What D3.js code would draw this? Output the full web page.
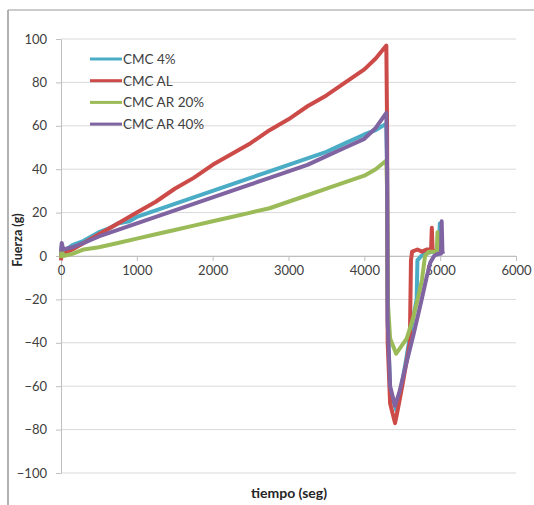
<!DOCTYPE html>
<html>
<head>
<meta charset="utf-8">
<script src="https://cdn.jsdelivr.net/npm/d3@7"></script>
<style>
  body { margin: 0; background: #fff; }
  text { font-family: Lato, "Open Sans", sans-serif; fill: #404040; }
</style>
</head>
<body>
<svg width="534" height="505"></svg>
<script>
// valori: [tiempo (seg), fuerza (g)]
var seriesNames = ["CMC 4%", "CMC AL", "CMC AR 20%", "CMC AR 40%"];
var seriesColors = ["#4bacc6", "#cc4a47", "#9bbb59", "#8064a2"];
var xTicks = [0, 1000, 2000, 3000, 4000, 5000, 6000];
var yTicks = [-100, -80, -60, -40, -20, 0, 20, 40, 60, 80, 100];

var cmc4 = [[0,-1],[10,5],[30,2],[150,5],[300,7],[400,9],[500,11],[650,13],[750,15],[900,16],[1000,18],
  [1250,21],[1500,24],[1750,27],[2000,30],[2250,33],[2500,36],[2750,39],[3000,42],[3250,45],
  [3500,48],[3750,52],[4000,56],[4150,58],[4290,61],[4300,40],[4308,-30],[4340,-62],[4420,-71],
  [4470,-64],[4550,-48],[4620,-33],[4690,-20],[4700,-2],[4750,0],[4800,1],[4900,2],[4980,1],
  [4995,15],[5005,2],[5020,1]];
var cmcAL = [[0,-2],[10,3],[30,1],[150,3],[300,6],[500,10],[750,15],[1000,20],[1250,25],[1500,31],
  [1750,36],[2000,42],[2250,47],[2500,52],[2750,58],[3000,63],[3250,69],[3500,74],[3750,80],
  [4000,86],[4150,91],[4290,97],[4300,60],[4308,-40],[4340,-68],[4405,-77],[4440,-71],
  [4500,-60],[4560,-48],[4600,-40],[4615,-2],[4630,2],[4700,3],[4760,2],[4820,3],[4880,3],
  [4890,13],[4900,3],[4930,2]];
var cmcAR20 = [[0,-1],[10,3],[30,0],[150,1],[300,3],[500,4],[750,6],[1000,8],[1250,10],[1500,12],
  [1750,14],[2000,16],[2250,18],[2500,20],[2750,22],[3000,25],[3250,28],[3500,31],[3750,34],
  [4000,37],[4150,40],[4290,44],[4300,30],[4308,-20],[4340,-38],[4420,-45],[4480,-42],
  [4560,-38],[4640,-29],[4710,-19],[4760,-11],[4800,0],[4850,2],[4900,2],[4955,2],[4965,11],
  [4975,2],[4990,2]];
var cmcAR40 = [[0,2],[10,6],[30,3],[150,4],[300,6],[500,9],[750,12],[1000,15],[1250,18],[1500,21],
  [1750,24],[2000,27],[2250,30],[2500,33],[2750,36],[3000,39],[3250,42],[3500,46],[3750,50],
  [4000,54],[4150,59],[4290,66],[4300,40],[4308,-30],[4340,-60],[4405,-69],[4460,-63],
  [4550,-50],[4650,-36],[4750,-21],[4820,-10],[4870,-3],[4920,0],[4970,1],[5010,1],[5020,16],
  [5030,2],[5040,1]];
var allSeries = [cmc4, cmcAL, cmcAR20, cmcAR40];

var svg = d3.select("svg");

// cornice esterna (solo sinistra e sopra, come nello screenshot)
svg.append("line").attr("x1", 8).attr("x2", 8).attr("y1", 10).attr("y2", 505)
  .style("stroke", "#7f7f7f").style("stroke-width", 1.2);
svg.append("line").attr("x1", 8).attr("x2", 534).attr("y1", 10).attr("y2", 10)
  .style("stroke", "#9a9a9a").style("stroke-width", 1.2);

var xScale = d3.scaleLinear().domain([0, 6000]).range([61, 516]);
var yScale = d3.scaleLinear().domain([-100, 100]).range([473, 39]);

// griglia orizzontale
svg.append("g").selectAll("line.grid")
  .data(yTicks)
  .enter()
  .append("line")
    .attr("class", "grid")
    .attr("x1", 61).attr("x2", 516)
    .attr("y1", d => yScale(d)).attr("y2", d => yScale(d))
    .style("stroke", "#d9d9d9").style("stroke-width", 1);

var yAxis = d3.axisLeft(yScale).tickValues(yTicks).tickFormat(d3.format("d"))
  .tickSizeInner(5).tickSizeOuter(0).tickPadding(9);
var yAxisG = svg.append("g").attr("transform", "translate(61,0)").call(yAxis);

var xAxis = d3.axisBottom(xScale).tickValues(xTicks).tickFormat(d3.format("d"))
  .tickSizeInner(5).tickSizeOuter(0).tickPadding(5);
var xAxisG = svg.append("g").attr("transform", `translate(0,${yScale(0)})`).call(xAxis);

[xAxisG, yAxisG].forEach(function(g) {
  g.select(".domain").style("stroke", "#bfbfbf");
  g.selectAll(".tick line").style("stroke", "#bfbfbf");
  g.selectAll(".tick text").style("font-size", "13px").style("fill", "#404040")
    .style("font-family", "Lato, 'Open Sans', sans-serif");
});

var line = d3.line().x(d => xScale(d[0])).y(d => yScale(d[1]));

svg.append("g").selectAll("path.serie")
  .data(allSeries)
  .enter()
  .append("path")
    .attr("class", "serie")
    .attr("d", line)
    .style("fill", "none")
    .style("stroke", (d, i) => seriesColors[i])
    .style("stroke-width", 4)
    .style("stroke-linejoin", "round");

// legenda
var legend = svg.append("g").selectAll("g.leg")
  .data(seriesNames)
  .enter()
  .append("g")
    .attr("class", "leg")
    .attr("transform", (d, i) => `translate(90, ${59 + i * 21.7})`);
legend.append("line").attr("x1", 0).attr("x2", 32).attr("y1", 0).attr("y2", 0)
  .style("stroke", (d, i) => seriesColors[i]).style("stroke-width", 3);
legend.append("text").attr("x", 33).attr("y", 5)
  .style("font-size", "13.5px")
  .text(d => d);

// titoli degli assi
svg.append("text")
  .attr("transform", "translate(22,240) rotate(-90)")
  .attr("text-anchor", "middle")
  .style("font-size", "12.5px").style("font-weight", "bold").style("fill", "#262626")
  .text("Fuerza (g)");
svg.append("text")
  .attr("x", 289).attr("y", 498)
  .attr("text-anchor", "middle")
  .style("font-size", "14px").style("font-weight", "bold").style("fill", "#262626")
  .text("tiempo (seg)");
</script>
</body>
</html>
